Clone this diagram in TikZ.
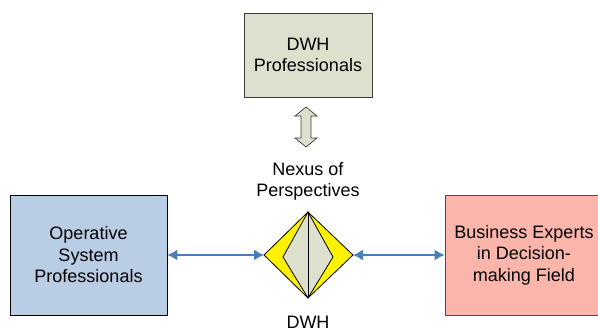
\documentclass[tikz,border=0pt]{standalone}
\usepackage{fontspec}
\setmainfont{Liberation Sans}
\usetikzlibrary{arrows.meta,calc}
\definecolor{dwhfill}{RGB}{221,224,205}
\definecolor{opfill}{RGB}{185,205,229}
\definecolor{bizfill}{RGB}{251,181,170}
\definecolor{conblue}{RGB}{74,126,187}
\definecolor{boxline}{RGB}{60,60,60}
\tikzset{
  box/.style={draw=boxline, line width=0.8pt, align=center, font=\fontsize{18}{21.5}\selectfont, inner sep=0pt},
  lbl/.style={align=center, font=\fontsize{18}{21}\selectfont, inner sep=0pt},
  conn/.style={draw=conblue, line width=1.6pt, {Latex[length=10pt,width=11pt]}-{Latex[length=10pt,width=11pt]}},
}
\begin{document}
\begin{tikzpicture}[x=1pt,y=-1pt]
\useasboundingbox (0,0) rectangle (598,330);
% boxes
\node[box, fill=dwhfill, minimum width=128pt, minimum height=84pt] (dwhp) at (308,55) {DWH\\Professionals};
\node[box, fill=opfill, draw=black, minimum width=157pt, minimum height=120pt] (ops) at (88.5,255) {Operative\\System\\Professionals};
\node[box, fill=bizfill, draw=black!70, minimum width=158pt, minimum height=120pt] (biz) at (524,255) {Business Experts\\in Decision-\\making Field};
% double block arrow
\coordinate (da) at (306,127);
\draw[boxline, fill=dwhfill, line width=0.7pt]
  ($(da)+(0,-20)$) -- ++(11,9) -- ++(-6,0) -- ++(0,22) -- ++(6,0) -- ++(-11,9) -- ++(-11,-9) -- ++(6,0) -- ++(0,-22) -- ++(-6,0) -- cycle;
% nexus label
\node[lbl] (nexus) at (308,181) {Nexus of\\Perspectives};
% diamond
\coordinate (T) at (308,212);
\coordinate (B) at (308,298);
\coordinate (L) at (264,255);
\coordinate (R) at (353,255);
\coordinate (il) at (283,257);
\coordinate (ir) at (333,257);
\draw[black, line width=0.8pt, fill=yellow] (T) -- (R) -- (B) -- (L) -- cycle;
\draw[black, line width=0.8pt, fill=dwhfill] (T) -- (ir) -- (B) -- (il) -- cycle;
\draw[black, line width=0.8pt] (T) -- (B);
\node[lbl] (dwh) at (308,322) {DWH};
% connectors
\draw[conn] (ops.east) -- (L);
\draw[conn] (R) -- (biz.west);
\end{tikzpicture}
\end{document}
